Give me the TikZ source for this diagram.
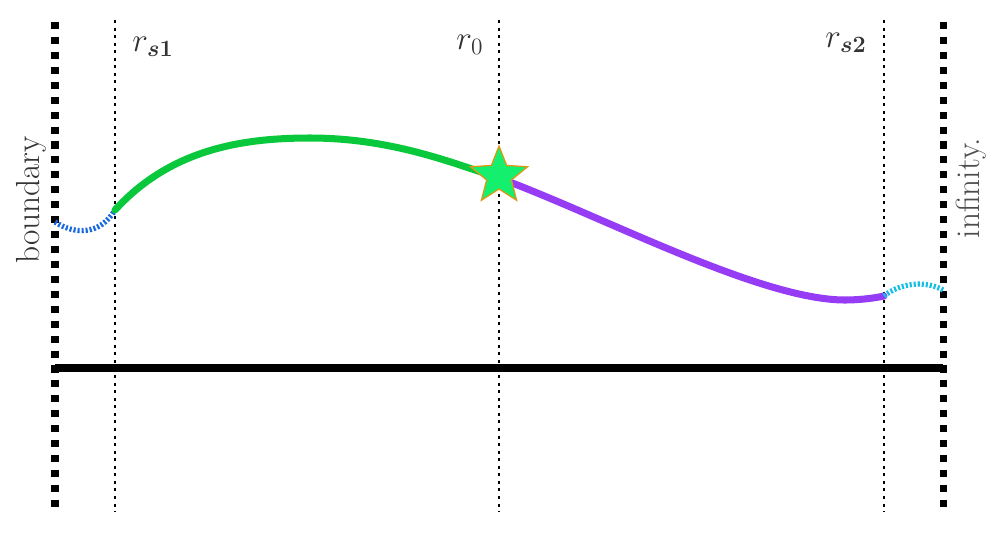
\documentclass[tikz,border=0pt]{standalone}
\usepackage{fix-cm}
\usepackage{bm}
\usepackage{fontspec}
\usepackage{tikz}
\usetikzlibrary{shapes.geometric}
\definecolor{GC}{RGB}{10,200,60}
\definecolor{PC}{RGB}{150,60,245}
\definecolor{BC}{RGB}{25,105,225}
\definecolor{CC}{RGB}{20,190,230}
\definecolor{SF}{RGB}{20,240,110}
\definecolor{SO}{RGB}{225,150,20}
\tikzset{
    TD/.style ={line width=4pt, dash pattern=on 4pt off 4.5pt},
    RD/.style ={line width=1.6pt, dash pattern=on 1.7pt off 2.6pt},
    AX/.style ={line width=5pt},
    CU/.style ={line width=4pt, line cap=round},
    DC/.style ={line width=3pt, dash pattern=on 1.2pt off 1.1pt},
    ST/.style ={star, star points=5, star point ratio=2.3, minimum size=1.2cm, inner sep=0pt, fill=SF, draw=SO, line width=0.7pt},
    LB/.style ={font=\fontsize{19}{23}\selectfont, text=black!80}}

\begin{document}
\begin{tikzpicture}[x=0.02cm, y=-0.02cm]
        \useasboundingbox (0,0) rectangle (999,542);
        % vertical lines
        \coordinate (bt) at (55,22);   \coordinate (bb) at (55,514);
        \coordinate (it) at (943,22);  \coordinate (ib) at (943,514);
        \coordinate (1t) at (115,20);  \coordinate (1b) at (115,512);
        \coordinate (0t) at (499,20);  \coordinate (0b) at (499,512);
        \coordinate (2t) at (884,20);  \coordinate (2b) at (884,512);
        \draw[TD] (bt) -- (bb);
        \draw[TD] (it) -- (ib);
        \draw[RD] (1t) -- (1b);
        \draw[RD] (0t) -- (0b);
        \draw[RD] (2t) -- (2b);
        \coordinate (al) at (55,368);  \coordinate (ar) at (943,368);
        \draw[AX] (al) -- (ar);
        % labels
        \node[LB] (l1) at (153,47){$r_{\bm{s1}}$};
        \node[LB] (l0) at (470,45){$r_0$};
        \node[LB] (l2) at (846,43){$r_{\bm{s2}}$};
        \node[LB, rotate=90] (lb) at (31,200){boundary};
        \node[LB, rotate=90, text=black!70] (li) at (971,188){infinity.};
        % curve
        \coordinate (c0) at (55,222);
        \coordinate (c1) at (115,210);
        \coordinate (cm) at (310,138);
        \coordinate (c2) at (499,178);
        \coordinate (c3) at (845,300);
        \coordinate (c4) at (884,296);
        \coordinate (c5) at (943,290);
        \draw[DC, BC] (c0) .. controls (75,235) and (100,235) .. (c1);
        \draw[CU, GC] (c1) .. controls (170,150) and (240,138) .. (cm)
                           .. controls (390,138) and (450,162) .. (c2);
        \draw[CU, PC] (c2) .. controls (600,215) and (760,300) .. (c3)
                           .. controls (860,300) and (875,298) .. (c4);
        \draw[DC, CC] (c4) .. controls (900,283) and (925,280) .. (c5);
        \node[ST] (st) at (499,176){};
    \end{tikzpicture}
\end{document}
